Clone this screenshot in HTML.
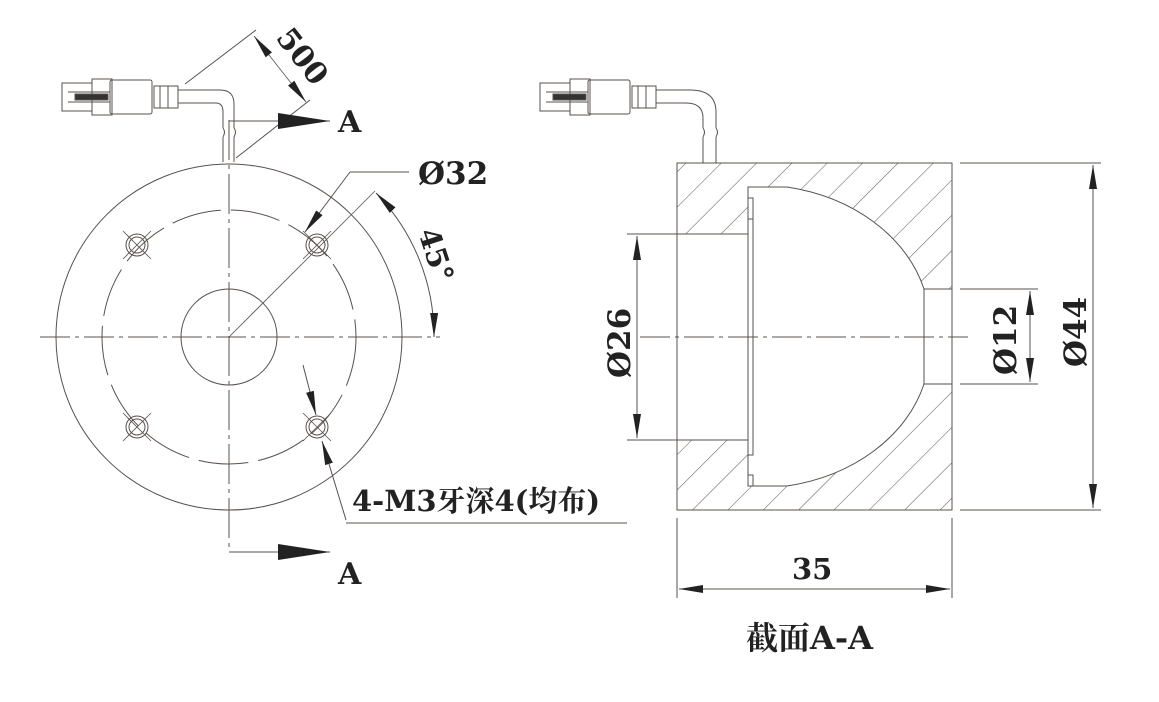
<!DOCTYPE html>
<html><head><meta charset="utf-8"><style>
html,body{margin:0;padding:0;background:#fff}
svg{display:block}
.t{font-family:"DejaVu Serif","Noto Serif CJK SC",serif;font-weight:bold;fill:#222}
</style></head><body>
<svg width="1159" height="702" viewBox="0 0 1159 702" xmlns="http://www.w3.org/2000/svg">
<defs>
<pattern id="h" patternUnits="userSpaceOnUse" width="25" height="25" patternTransform="rotate(45)">
<line x1="0" y1="0" x2="0" y2="25" stroke="#6a5f5c" stroke-width="1.1"/>
</pattern>
<marker id="ar" viewBox="0 0 24 8" refX="24" refY="4" markerWidth="24" markerHeight="8" markerUnits="userSpaceOnUse" orient="auto-start-reverse"><path d="M0,0L24,4L0,8z" fill="#222"/></marker>
<marker id="big" viewBox="0 0 52 16" refX="52" refY="8" markerWidth="52" markerHeight="16" markerUnits="userSpaceOnUse" orient="auto"><path d="M0,0L52,8L0,16z" fill="#222"/></marker>
<g id="hole" fill="none" stroke="#5a504d">
<circle r="11"/><circle r="8"/>
<line x1="-14" y1="-14" x2="14" y2="14" stroke-width="0.8"/><line x1="-14" y1="14" x2="14" y2="-14" stroke-width="0.8"/>
</g>
</defs>
<g fill="none" stroke="#5a504d" stroke-width="1">
<circle cx="229" cy="337" r="173"/>
<circle cx="229" cy="337" r="48"/>
<circle cx="229" cy="337" r="127" stroke-dasharray="50,10"/>
<line x1="40" y1="337" x2="440" y2="337" stroke-dasharray="30,5,4,5"/>
<line x1="229" y1="120" x2="229" y2="552" stroke-dasharray="40,5,4,5"/>
<use href="#hole" x="137" y="245"/><use href="#hole" x="317" y="245"/>
<use href="#hole" x="137" y="427"/><use href="#hole" x="317" y="427"/>
<line x1="229" y1="337" x2="375" y2="191" stroke-width="0.8"/>
<rect x="62" y="83" width="30" height="28"/>
<rect x="92" y="79" width="20" height="36"/>
<rect x="110" y="80" width="42" height="34" rx="2"/>
<line x1="68" y1="92" x2="110" y2="92"/><line x1="68" y1="102" x2="110" y2="102"/>
<rect x="75" y="94" width="33" height="6" fill="#333"/>
<rect x="154" y="86" width="24" height="22"/>
<line x1="160" y1="86" x2="160" y2="108"/><line x1="168" y1="86" x2="168" y2="108"/>
<path d="M178,90 H220 Q234,90 234,104 V128"/>
<path d="M178,103 H216 Q223,103 223,112 V128"/>
<path d="M223,137 V162 M234,137 V162"/>
<path d="M223,128 q3,4 0,9 M234,128 q3,4 0,9"/>
<line x1="185" y1="84" x2="256" y2="30"/>
<line x1="236" y1="158" x2="310" y2="100"/>
<line x1="254" y1="36" x2="306" y2="102" marker-end="url(#ar)" marker-start="url(#ar)" stroke-width="0.8"/>
<line x1="229" y1="121" x2="330" y2="121" marker-end="url(#big)"/>
<line x1="229" y1="552" x2="330" y2="552" marker-end="url(#big)"/>
<line x1="409" y1="172" x2="350" y2="172"/>
<line x1="350" y1="172" x2="305" y2="232" marker-end="url(#ar)"/>
<path d="M376,193 A205,205 0 0,1 434,337" marker-start="url(#ar)" marker-end="url(#ar)"/>
<line x1="303" y1="365" x2="316" y2="415" marker-end="url(#ar)"/>
<line x1="346" y1="520" x2="322" y2="441" marker-end="url(#ar)"/>
<line x1="346" y1="523" x2="627" y2="523"/>
</g>
<path d="M677,163H952V289H924V384H952V510H677V440H748V455H753V219H748V234H677Z" fill="url(#h)"/>
<path d="M748,187H787A175,140 0 0 1 924,289V384A175,140 0 0 1 787,486H748Z" fill="#fff"/>
<g fill="none" stroke="#5a504d" stroke-width="1">
<rect x="677" y="163" width="275" height="347"/>
<path d="M677,234H748V187H787A175,140 0 0 1 924,289H952M924,289V384H952M924,384A175,140 0 0 1 787,486H748V440H677"/>
<path d="M748,234V440M748,198H753V219H748M753,219V455H748M748,475H753V486"/>
<line x1="640" y1="337" x2="968" y2="337" stroke-dasharray="30,5,4,5"/>
<rect x="540" y="83" width="30" height="28"/>
<rect x="570" y="79" width="20" height="36"/>
<rect x="588" y="80" width="42" height="34" rx="2"/>
<line x1="546" y1="92" x2="588" y2="92"/><line x1="546" y1="102" x2="588" y2="102"/>
<rect x="553" y="94" width="33" height="6" fill="#333"/>
<rect x="632" y="86" width="24" height="22"/>
<line x1="638" y1="86" x2="638" y2="108"/><line x1="646" y1="86" x2="646" y2="108"/>
<path d="M656,90 H690 Q716,90 716,112 V128"/>
<path d="M656,103 H686 Q703,103 703,118 V128"/>
<path d="M703,137 V163 M716,137 V163"/>
<path d="M703,128 q3,4 0,9 M716,128 q3,4 0,9"/>
<line x1="627" y1="234" x2="677" y2="234"/><line x1="627" y1="440" x2="677" y2="440"/>
<line x1="637" y1="236" x2="637" y2="438" marker-start="url(#ar)" marker-end="url(#ar)"/>
<line x1="960" y1="289" x2="1038" y2="289"/><line x1="960" y1="384" x2="1038" y2="384"/>
<line x1="1030" y1="291" x2="1030" y2="382" marker-start="url(#ar)" marker-end="url(#ar)"/>
<line x1="960" y1="163" x2="1101" y2="163"/><line x1="960" y1="510" x2="1101" y2="510"/>
<line x1="1093" y1="165" x2="1093" y2="508" marker-start="url(#ar)" marker-end="url(#ar)"/>
<line x1="677" y1="518" x2="677" y2="598"/><line x1="952" y1="518" x2="952" y2="598"/>
<line x1="679" y1="589" x2="950" y2="589" marker-start="url(#ar)" marker-end="url(#ar)"/>
</g>
<g class="t">
<text x="0" y="0" font-size="30" transform="translate(275,38) rotate(52)">500</text>
<text x="338" y="132" font-size="30">A</text>
<text x="338" y="584" font-size="30">A</text>
<text x="418" y="184" font-size="31">Ø32</text>
<text x="0" y="0" font-size="29" transform="translate(418,232) rotate(72)">45°</text>
<text x="352" y="511" font-size="29">4-M3牙深4(均布)</text>
<text x="0" y="0" font-size="31" transform="translate(630,378) rotate(-90)">Ø26</text>
<text x="0" y="0" font-size="31" transform="translate(1016,375) rotate(-90)">Ø12</text>
<text x="0" y="0" font-size="31" transform="translate(1086,367) rotate(-90)">Ø44</text>
<text x="792" y="579" font-size="29">35</text>
<text x="746" y="649" font-size="32">截面A-A</text>
</g>
</svg>
</body></html>
